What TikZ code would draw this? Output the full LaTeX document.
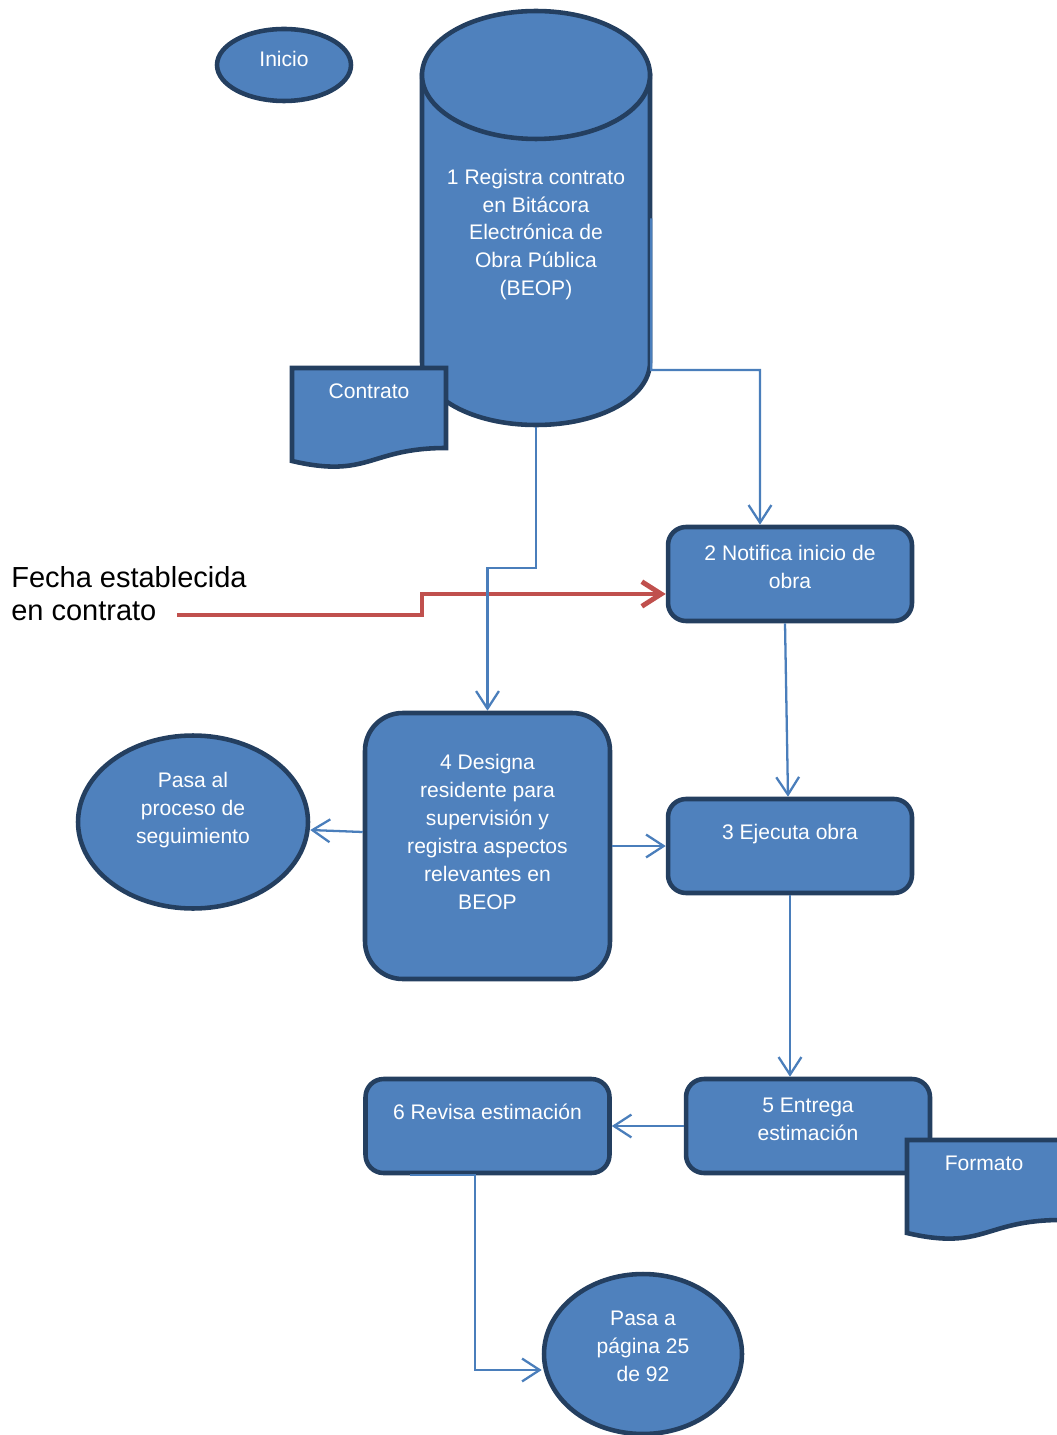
\documentclass[tikz,border=0pt]{standalone}
\usepackage{fontspec}
\setmainfont{Liberation Sans}
\usetikzlibrary{shapes.geometric, arrows.meta}
\definecolor{boxfill}{HTML}{4F81BD}
\definecolor{boxline}{HTML}{243F60}
\definecolor{linkblue}{HTML}{4A7EBB}
\definecolor{linkred}{HTML}{C0504D}
\tikzstyle{process} = [rectangle, 
rounded corners=0.36cm, 
minimum width=4.88cm, 
minimum height=1.88cm, 
align=center, 
line width=2.6pt, 
draw=boxline, 
fill=boxfill, 
text=white]
\tikzstyle{bigprocess} = [process, 
rounded corners=0.75cm, 
minimum width=4.9cm, 
minimum height=5.32cm]
\tikzstyle{terminal} = [ellipse, 
inner sep=0pt, 
align=center, 
line width=2.6pt, 
draw=boxline, 
fill=boxfill, 
text=white]
\tikzstyle{shapeline} = [line width=2.6pt, draw=boxline, fill=boxfill]
\tikzstyle{shapetext} = [text=white, align=center]
\tikzstyle{arrow} = [line width=1.3pt, draw=linkblue, -{Straight Barb[length=10pt,width=13pt]}]
\tikzstyle{datearrow} = [line width=2.8pt, draw=linkred, -{Straight Barb[length=11pt,width=14pt]}]

\begin{document}
\begin{tikzpicture}[x=0.02cm, y=-0.02cm, font=\fontsize{12}{15.9}\selectfont]
  \useasboundingbox (0,0) rectangle (1056,1435);

  % cilindro de la BEOP
  \draw [shapeline] (422,75) -- (422,362)
    .. controls (422,397.9) and (473,425) .. (536,425)
    .. controls (599,425) and (650,397.9) .. (650,362)
    -- (650,75) -- cycle;
  \draw [shapeline] (536,75) ellipse [x radius=2.28cm, y radius=1.28cm];
  \node (beop) [shapetext, minimum width=4.6cm, minimum height=8.34cm] at (536,218.5) {\mbox{}\\[11pt]1 Registra contrato\\en Bitácora\\Electrónica de\\Obra Pública\\(BEOP)};

  % documento contrato
  \draw [shapeline] (292,368) -- (446,368) -- (446,448)
    .. controls (369,448) and (369,479) .. (292,461) -- cycle;
  \node (contrato) [shapetext] at (369,391) {Contrato};

  \node (inicio) [terminal, minimum width=2.68cm, minimum height=1.44cm] at (284,65) {Inicio\\[-9pt]\mbox{}};

  \node (notif) [process] at (790,574) {2 Notifica inicio de\\obra\\[-8pt]\mbox{}};
  \node (ejec) [process] at (790,846) {3 Ejecuta obra\\\mbox{}};
  \node (designa) [bigprocess] at (487.5,846) {4 Designa\\residente para\\supervisión y\\registra aspectos\\relevantes en\\BEOP\\\mbox{}};
  \node (seguim) [terminal, minimum width=4.6cm, minimum height=3.46cm] at (193,822) {Pasa al\\proceso de\\seguimiento\\\mbox{}};
  \node (entrega) [process] at (808,1126) {5 Entrega\\estimación\\[-8pt]\mbox{}};
  \node (revisa) [process] at (487.5,1126) {6 Revisa estimación\\\mbox{}};
  \node (pagina) [terminal, minimum width=3.96cm, minimum height=3.2cm] at (643,1354) {Pasa a\\página 25\\de 92\\[-7pt]\mbox{}};

  % documento formato
  \draw [shapeline] (907,1140) -- (1061,1140) -- (1061,1220)
    .. controls (984,1220) and (984,1251) .. (907,1233) -- cycle;
  \node (formato) [shapetext] at (984,1163) {Formato};

  \node (fecha) [anchor=west, align=left, inner sep=0pt, font=\fontsize{16.5}{18.8}\selectfont] at (11,593.5) {Fecha establecida\\en contrato};
  \coordinate (fechaend) at (177,615);

  \draw [datearrow] (fechaend) -- (422,615) |- ([yshift=-0.4cm]notif.west);
  \draw [arrow] (beop.east) |- (760,370) -- ([xshift=-0.6cm]notif.north);
  \draw [arrow] (beop.south) -- ++(0,141) -| (designa.north);
  \draw [arrow] ([xshift=-0.1cm]notif.south) -- ([xshift=-0.04cm]ejec.north);
  \draw [arrow] ([yshift=0.28cm]designa.west) -- ([yshift=-0.16cm]seguim.east);
  \draw [arrow] (designa.east) -- (ejec.west);
  \draw [arrow] (ejec.south) -- (ejec.south |- entrega.north);
  \draw [arrow] (entrega.west) -- (revisa.east);
  \draw [arrow] ([xshift=-1.55cm]revisa.south) -- ([xshift=-0.25cm]revisa.south) |- ([yshift=-0.32cm]pagina.west);

\end{tikzpicture}
\end{document}
